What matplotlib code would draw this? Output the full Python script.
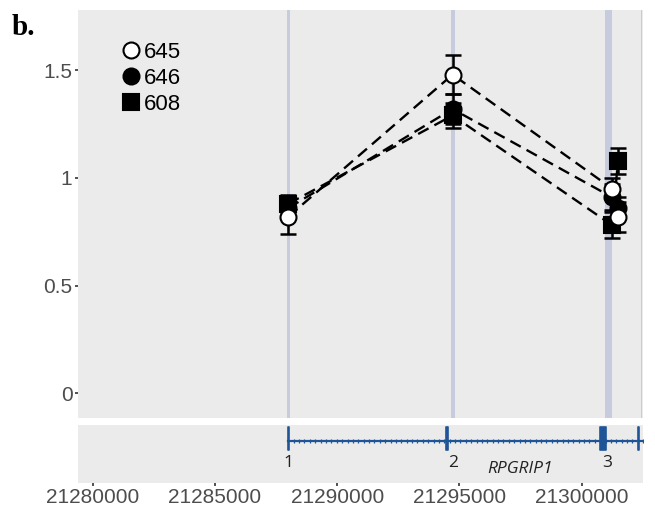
import matplotlib.pyplot as plt
import numpy as np

# probe positions (bp) and relative values per sample
pos = [21288000, 21294720, 21301250, 21301490]
samples = ['645', '646', '608']
vals = {
    '645': [0.82, 1.48, 0.95, 0.82],
    '646': [0.86, 1.32, 0.91, 0.86],
    '608': [0.88, 1.29, 0.78, 1.08],
}
errs = {
    '645': [0.08, 0.09, 0.05, 0.07],
    '646': [0.05, 0.07, 0.06, 0.05],
    '608': [0.04, 0.06, 0.06, 0.06],
}
markers = {'645': 'o', '646': 'o', '608': 's'}
faces = {'645': 'white', '646': 'black', '608': 'black'}

# exon bands in the top panel (start, end)
exon_bands = [(21287950, 21288050), (21294640, 21294800), (21300950, 21301230), (21302420, 21302480)]
# gene model exons (start, end) and labels
gene_start, gene_end = 21288000, 21302600
gene_exons = [(21287990, 21288040), (21294440, 21294520), (21300740, 21300980), (21302310, 21302360)]
exon_labels = [('1', 21288000), ('2', 21294750), ('3', 21301050)]
gene_name = 'RPGRIP1'

xticks = [21280000, 21285000, 21290000, 21295000, 21300000]
xlim = (21279390, 21302520)

bg = '#ebebeb'
band_col = '#c6ccdd'
gene_col = '#1f5596'
tick_col = '#4d4d4d'

plt.rcParams['font.family'] = ['Liberation Sans', 'DejaVu Sans']

fig = plt.figure(figsize=(6.55, 5.14), dpi=100)
ax = fig.add_axes([0.119, 0.187, 0.863, 0.7935])
ax2 = fig.add_axes([0.119, 0.061, 0.863, 0.113])

for a in (ax, ax2):
    a.set_facecolor(bg)
    for s in a.spines.values():
        s.set_visible(False)
    a.set_xlim(*xlim)

for s, e in exon_bands:
    ax.axvspan(s, e, color=band_col, lw=0, zorder=0)

for name in ['608', '646', '645']:
    ax.errorbar(pos, vals[name], yerr=errs[name], fmt='none', ecolor='black',
                elinewidth=1.8, capsize=6, capthick=1.8, zorder=2)
for name in ['608', '646', '645']:
    ax.plot(pos, vals[name], ls=(0, (5, 2.8)), color='black', lw=1.7, zorder=3)
for name in ['608', '646', '645']:
    ax.plot(pos, vals[name], ls='none', marker=markers[name], mfc=faces[name],
            mec='black', mew=1.5, ms=11.5, zorder=4, label=name)

ax.set_ylim(-0.115, 1.78)
ax.set_yticks([0, 0.5, 1, 1.5])
ax.set_yticklabels(['0', '0.5', '1', '1.5'])
ax.set_xticks([])
ax.tick_params(axis='y', length=2, width=1.2, color='#333333', labelcolor=tick_col,
               labelsize=15, pad=2)

h, l = ax.get_legend_handles_labels()
order = [l.index(n) for n in samples]
leg = ax.legend([h[i] for i in order], [l[i] for i in order], loc='upper left',
                bbox_to_anchor=(0.065, 0.944), frameon=False, fontsize=16,
                handlelength=0.7, handletextpad=0.2, labelspacing=0.22, borderaxespad=0)
for t in leg.get_texts():
    t.set_color('black')

# gene track
ax2.set_ylim(0, 1)
ax2.plot([gene_start, gene_end], [0.71, 0.71], color=gene_col, lw=1.6, zorder=2)
ticks_x = np.arange(gene_start + 220, gene_end, 220)
ax2.plot(ticks_x, np.full(len(ticks_x), 0.71), ls='none', marker='|', ms=3,
         mew=0.9, color=gene_col, zorder=2)
for s, e in gene_exons:
    ax2.fill_between([s, e], 0.57, 0.96, color=gene_col, lw=1.2, zorder=3)
for lab, x in exon_labels:
    ax2.text(x, 0.34, lab, ha='center', va='center', fontsize=12.5, color='#222222',
             family='Open Sans')
ax2.text(21297500, 0.24, gene_name, ha='center', va='center', fontsize=12.5,
         style='italic', color='#222222', family='Open Sans')
ax2.set_yticks([])
ax2.set_xticks(xticks)
ax2.set_xticklabels([str(x) for x in xticks])
ax2.tick_params(axis='x', length=2, width=1.2, color='#333333', labelcolor=tick_col,
                labelsize=15, pad=2)

fig.text(0.017, 0.932, 'b.', fontsize=21, fontweight='bold', family='Liberation Serif')

fig.savefig('out.png', dpi=100)
